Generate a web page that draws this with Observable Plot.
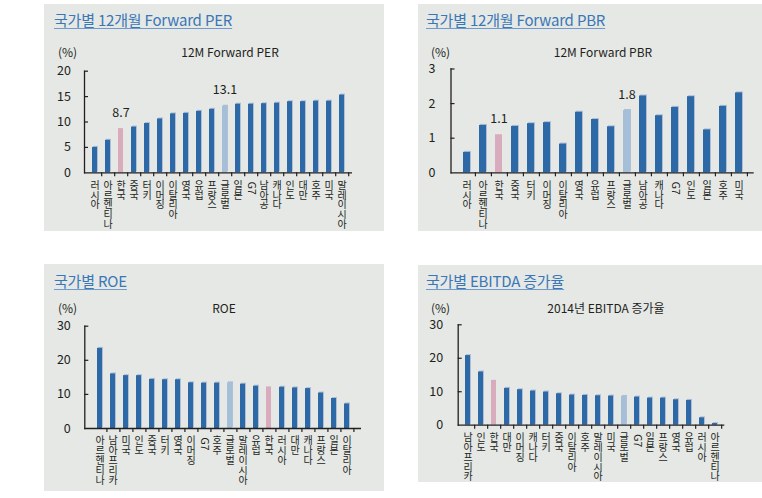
<!DOCTYPE html>
<html><head><meta charset="utf-8">
<script src="https://cdn.jsdelivr.net/npm/d3@7"></script>
<script src="https://cdn.jsdelivr.net/npm/@observablehq/plot@0.6"></script>
<style>
body{margin:0;background:#fff;width:762px;height:498px;position:relative;overflow:hidden;font-family:"Noto Sans CJK KR","Noto Sans",sans-serif;}
.panel{position:absolute;background:#e5e8e5;}
.panel svg{position:absolute;left:0;top:0;overflow:visible;}
.title{position:absolute;font-size:15px;line-height:18px;color:#3a77b6;text-decoration:underline;text-decoration-color:#6f9acb;text-underline-offset:2px;white-space:nowrap;letter-spacing:-0.2px;}
.unit,.sub{position:absolute;font-size:12px;line-height:14px;color:#231f20;white-space:nowrap;}
.sub{transform:translateX(-50%);}
</style></head><body>
<script>
// ---- data ----
const perCats = ["러시아","아르헨티나","한국","중국","터키","이머징","이탈리아","영국","유럽","프랑스","글로벌","일본","G7","남아공","캐나다","인도","대만","호주","미국","말레이시아"];
const perValues = [5.0,6.4,8.7,9.0,9.7,10.6,11.6,11.7,12.1,12.5,13.1,13.5,13.5,13.6,13.7,14.0,14.0,14.1,14.1,15.3];
const perTicks = [0,5,10,15,20];

const pbrCats = ["러시아","아르헨티나","한국","중국","터키","이머징","이탈리아","영국","유럽","프랑스","글로벌","남아공","캐나다","G7","인도","일본","호주","미국"];
const pbrValues = [0.59,1.37,1.1,1.34,1.42,1.45,0.83,1.75,1.54,1.33,1.8,2.22,1.65,1.89,2.2,1.24,1.92,2.31];
const pbrTicks = [0,1,2,3];

const roeCats = ["아르헨티나","남아프리카","미국","인도","중국","터키","영국","이머징","G7","호주","글로벌","말레이시아","유럽","한국","러시아","대만","캐나다","프랑스","일본","이탈리아"];
const roeValues = [23.5,16.0,15.5,15.5,14.4,14.3,14.3,13.4,13.3,13.3,13.4,13.0,12.4,12.2,12.1,11.9,11.7,10.4,8.8,7.2];
const roeTicks = [0,10,20,30];

const ebitdaCats = ["남아프리카","인도","한국","대만","이머징","캐나다","터키","중국","이탈리아","호주","말레이시아","미국","글로벌","G7","일본","프랑스","영국","유럽","러시아","아르헨티나"];
const ebitdaValues = [20.8,15.9,13.4,11.0,10.6,10.2,9.9,9.4,9.0,8.9,8.8,8.7,8.6,8.4,8.1,8.1,7.6,7.4,2.2,0.5];
const ebitdaTicks = [0,10,20,30];

const titles = ["국가별 12개월 Forward PER","국가별 12개월 Forward PBR","국가별 ROE","국가별 EBITDA 증가율"];
const subtitles = ["12M Forward PER","12M Forward PBR","ROE","2014년 EBITDA 증가율"];
const unitLabel = "(%)";
const korea = "한국", globalName = "글로벌";

// ---- styles ----
const C_BAR = "#2c69a6", C_SHADOW = "#aebfd6", C_KOREA = "#d8abbd", C_GLOBAL = "#a6bfd9", C_TEXT = "#231f20";

const layout = [
  {cats:perCats, values:perValues, ticks:perTicks, left:44, top:4, w:340, h:227, axisX:84, rangeEnd:352, yTopPx:70.7, y0Px:172.3, pad:0.63, gap:13.5, titleX:54, titleY:11, subX:230, subY:45, unitX:58, showLabels:true},
  {cats:pbrCats, values:pbrValues, ticks:pbrTicks, left:418, top:4, w:344, h:227, axisX:450.5, rangeEnd:753.7, yTopPx:68.5, y0Px:172.3, pad:0.585, gap:15.5, titleX:426, titleY:11, subX:603, subY:45, unitX:431, showLabels:true},
  {cats:roeCats, values:roeValues, ticks:roeTicks, left:44, top:264, w:340, h:227, axisX:84.3, rangeEnd:361, yTopPx:325.7, y0Px:428, pad:0.64, gap:14, titleX:54, titleY:272, subX:224, subY:301, unitX:58, showLabels:false},
  {cats:ebitdaCats, values:ebitdaValues, ticks:ebitdaTicks, left:418, top:265, w:344, h:217, axisX:457.7, rangeEnd:724.3, yTopPx:324.3, y0Px:424.7, pad:0.62, gap:15, titleX:426, titleY:272, subX:606, subY:301, unitX:431, showLabels:false}
];

function addText(cls, txt, x, y){
  const d = document.createElement("div");
  d.className = cls; d.textContent = txt;
  d.style.left = x + "px"; d.style.top = y + "px";
  document.body.appendChild(d);
}

const isLatin = s => /^[A-Za-z0-9]+$/.test(s);

layout.forEach((L, k) => {
  const panel = document.createElement("div");
  panel.className = "panel";
  Object.assign(panel.style, {left:L.left+"px", top:L.top+"px", width:L.w+"px", height:L.h+"px"});
  document.body.appendChild(panel);

  const data = L.cats.map((c, i) => ({cat:c, value:L.values[i]}));
  const yMax = L.ticks[L.ticks.length-1];
  const mL = L.axisX - L.left, mR = L.left + L.w - L.rangeEnd;
  const mT = L.yTopPx - L.top, mB = L.top + L.h - L.y0Px;
  const plotW = L.w - mL - mR, plotH = L.h - mT - mB;
  const step = plotW / L.cats.length;
  const tickLen = 4 * yMax / plotH;
  const colorOf = d => d.cat === korea ? C_KOREA : d.cat === globalName ? C_GLOBAL : C_BAR;

  const svg = Plot.plot({
    width: L.w, height: L.h,
    marginLeft: mL, marginRight: mR, marginTop: mT, marginBottom: mB,
    style: {background:"transparent", overflow:"visible", fontFamily:'"Noto Sans CJK KR", sans-serif', color: C_TEXT},
    x: {domain: L.cats, paddingInner: L.pad, paddingOuter: L.pad/2, axis: null},
    y: {domain: [0, yMax], axis: null},
    marks: [
      Plot.barY(data.filter(d => d.cat !== korea), {x:"cat", y:"value", fill:C_SHADOW, dx:1, dy:-1}),
      Plot.barY(data, {x:"cat", y:"value", fill:colorOf}),
      Plot.ruleY([0], {stroke:C_TEXT, strokeWidth:1.3}),
      Plot.frame({anchor:"left", stroke:C_TEXT, strokeWidth:1.3}),
      Plot.ruleY(L.ticks.filter(t => t > 0), {y:d=>d, stroke:C_TEXT, strokeWidth:1.2, insetRight: plotW - 4}),
      Plot.text(L.ticks, {y:d=>d, text:d=>String(d), frameAnchor:"left", textAnchor:"end", dx:-L.gap, fontSize:12.5, fill:C_TEXT}),
      Plot.ruleX(L.cats, {x:d=>d, y1:0, y2:-tickLen, dx: step/2, stroke:C_TEXT, strokeWidth:1.2}),
      // stacked (vertical) Korean category labels
      Plot.text(L.cats.filter(c => !isLatin(c)), {x:d=>d, y:()=>0, text:d=>d.split("").join("\n"), lineAnchor:"top", lineHeight:0.98, textAnchor:"middle", dy:9, fontSize:10, fill:C_TEXT}),
      // Latin labels (G7) rotated sideways as in vertical writing
      Plot.text(L.cats.filter(isLatin), {x:d=>d, y:()=>0, text:d=>d, rotate:90, textAnchor:"start", lineAnchor:"middle", dy:9, fontSize:10.5, fill:C_TEXT}),
      L.showLabels ? Plot.text(data.filter(d => d.cat === korea || d.cat === globalName), {x:"cat", y:"value", text:d=>d.value.toFixed(1), dy:-16, fontSize:12.5, fill:C_TEXT}) : null
    ]
  });
  panel.appendChild(svg);

  addText("title", titles[k], L.titleX, L.titleY);
  addText("unit", unitLabel, L.unitX, L.subY);
  addText("sub", subtitles[k], L.subX, L.subY);
});
</script>
</body></html>
